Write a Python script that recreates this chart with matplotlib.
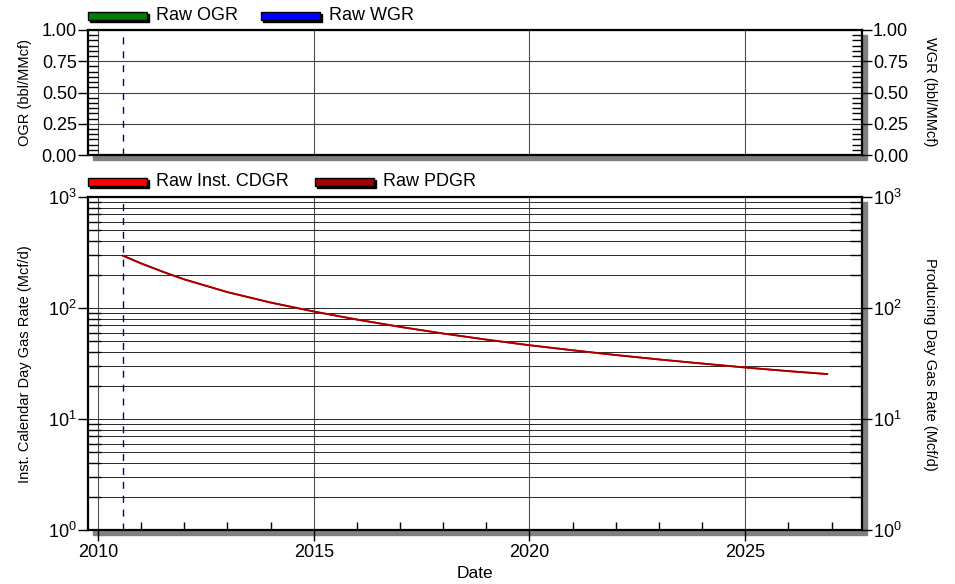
import numpy as np
import matplotlib
matplotlib.use('Agg')
import matplotlib.pyplot as plt
from matplotlib.patches import Rectangle
from matplotlib.ticker import MultipleLocator, LogLocator, NullFormatter, FixedLocator

plt.rcParams['font.family'] = ['Liberation Sans', 'DejaVu Sans']
plt.rcParams['mathtext.fontset'] = 'custom'
plt.rcParams['mathtext.rm'] = 'Liberation Sans'

# Gas rate history (decimal year, Mcf/d)
years = [2010.58, 2011.0, 2011.59, 2012.0, 2013.0, 2014.0, 2015.0, 2016.0, 2017.0,
         2018.0, 2019.0, 2020.0, 2021.0, 2022.0, 2023.0, 2024.0, 2025.0, 2026.0,
         2026.9]
cdgr = [296, 252, 206, 181, 139, 112, 93, 78.7, 67.6, 58.9, 51.9, 46.2, 41.6,
        37.7, 34.4, 31.6, 29.1, 27.0, 25.4]
pdgr = list(cdgr)
first_prod = 2010.58

ogr_ticks = [0.0, 0.25, 0.5, 0.75, 1.0]
year_ticks = [2010, 2015, 2020, 2025]

W, H = 955, 584
fig = plt.figure(figsize=(W / 100, H / 100), dpi=100)


def box(x0, y0, x1, y1):
    return [x0 / W, 1 - y1 / H, (x1 - x0) / W, (y1 - y0) / H]


def shadow(x0, y0, x1, y1, off=5):
    fig.patches.append(Rectangle(((x0 + off) / W, 1 - (y1 + off) / H),
                                 (x1 - x0) / W, (y1 - y0) / H,
                                 transform=fig.transFigure, color='0.5',
                                 zorder=-5))


def legend_patch(x0, y, color, label):
    x1 = x0 + 59
    fig.patches.append(Rectangle(((x0 + 2) / W, 1 - (y + 6) / H), (x1 - x0) / W, 8 / H,
                                 transform=fig.transFigure, color='black', zorder=5))
    fig.patches.append(Rectangle((x0 / W, 1 - (y + 4) / H), (x1 - x0) / W, 8 / H,
                                 transform=fig.transFigure, facecolor=color,
                                 edgecolor='black', lw=1, zorder=6))
    fig.text((x1 + 9) / W, 1 - y / H, label, fontsize=13, va='center', ha='left')


XMIN, XMAX = 2009.768, 2027.706

ax_top = fig.add_axes(box(88, 30, 862, 155))
ax_bot = fig.add_axes(box(88, 197, 862, 530))
shadow(88, 30, 862, 155)
shadow(88, 197, 862, 530)

for ax in (ax_top, ax_bot):
    ax.set_xlim(XMIN, XMAX)
    ax.xaxis.set_major_locator(FixedLocator(year_ticks))
    for s in ax.spines.values():
        s.set_linewidth(1.6)
    ax.grid(True, which='major', axis='x', color='0.3', lw=0.8)
    ax.axvline(first_prod, color='#000080', lw=1, dashes=(5, 5))

# Upper panel: OGR / WGR
ax_top.set_ylim(0, 1)
ax_top.yaxis.set_major_locator(FixedLocator(ogr_ticks))
ax_top.yaxis.set_minor_locator(MultipleLocator(0.25 / 6))
ax_top.yaxis.set_major_formatter(plt.FuncFormatter(lambda v, p: f'{v:.2f}'))
ax_top.grid(True, which='major', axis='y', color='0.25', lw=0.8)
ax_top.tick_params(axis='x', which='both', bottom=False, labelbottom=False)
ax_top.tick_params(axis='y', which='major', direction='out', length=7, width=1,
                   labelsize=13, left=True, right=True, labelright=True, pad=1)
ax_top.tick_params(axis='y', which='minor', direction='in', length=7, width=1,
                   left=True, right=True)

# Lower panel: gas rates
ax_bot.set_yscale('log')
ax_bot.set_ylim(1, 1000)
ax_bot.plot(years, cdgr, color='red', lw=1.3, zorder=3)
ax_bot.plot(years, pdgr, color='#a00000', lw=1.3, zorder=4)
ax_bot.yaxis.set_major_locator(LogLocator(base=10))
ax_bot.yaxis.set_minor_locator(LogLocator(base=10, subs=np.arange(2, 10)))
ax_bot.yaxis.set_minor_formatter(NullFormatter())
ax_bot.grid(True, which='both', axis='y', color='0.15', lw=0.7)
ax_bot.xaxis.set_minor_locator(MultipleLocator(1))
ax_bot.tick_params(axis='x', which='major', direction='out', length=8, width=1,
                   labelsize=13, pad=2)
ax_bot.tick_params(axis='x', which='minor', direction='in', length=6, width=1)
ax_bot.tick_params(axis='y', which='major', direction='out', length=7, width=1,
                   labelsize=13, left=True, right=True, labelright=True, pad=1)
ax_bot.tick_params(axis='y', which='minor', direction='in', length=9, width=1,
                   left=True, right=True)

# Axis titles
fig.text(25 / W, 1 - 92 / H, 'OGR (bbl/MMcf)', rotation=90, fontsize=10.5,
         ha='center', va='center')
fig.text(930 / W, 1 - 92 / H, 'WGR (bbl/MMcf)', rotation=270, fontsize=10.5,
         ha='center', va='center')
fig.text(25 / W, 1 - 364 / H, 'Inst. Calendar Day Gas Rate (Mcf/d)', rotation=90,
         fontsize=10.5, ha='center', va='center')
fig.text(930 / W, 1 - 364 / H, 'Producing Day Gas Rate (Mcf/d)', rotation=270,
         fontsize=10.5, ha='center', va='center')
fig.text(475 / W, 1 - 574 / H, 'Date', fontsize=12.5, ha='center', va='center')

# Legends
legend_patch(88, 16, 'green', 'Raw OGR')
legend_patch(261, 16, 'blue', 'Raw WGR')
legend_patch(88, 182, 'red', 'Raw Inst. CDGR')
legend_patch(315, 182, '#a00000', 'Raw PDGR')

fig.savefig('out.png', dpi=100)
